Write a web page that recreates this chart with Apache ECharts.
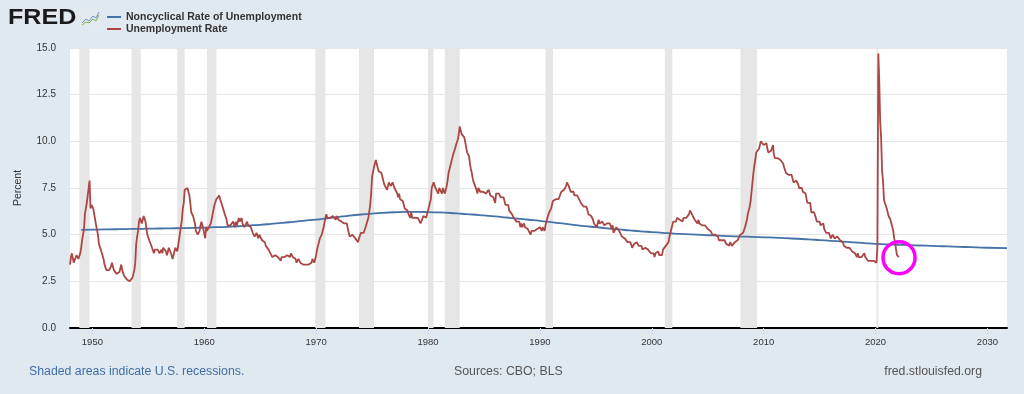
<!DOCTYPE html>
<html>
<head>
<meta charset="utf-8">
<script src="https://cdn.jsdelivr.net/npm/echarts@6/dist/echarts.min.js"></script>
<style>
html,body{margin:0;padding:0;background:#e1e9f0;}
#c{width:1024px;height:394px;}
</style>
</head>
<body>
<div id="c"></div>
<script>
// ---- Data (monthly unemployment rate, %, starting Jan of each block) ----
const unrate1948 = [3.4,3.8,4.0,3.9,3.5,3.6,3.6,3.9,3.8,3.7,3.8,4.0,
  4.3,4.7,5.0,5.3,6.1,6.2,6.7,6.8,6.6,7.9,6.4,6.6];
const unrate1950s = [
  6.5,6.4,6.3,5.8,5.5,5.4,5.0,4.5,4.4,4.2,4.2,4.3,
  3.7,3.4,3.4,3.1,3.0,3.2,3.1,3.1,3.3,3.5,3.5,3.1,
  3.2,3.1,2.9,2.9,3.0,3.0,3.2,3.4,3.1,3.0,2.8,2.7,
  2.9,2.6,2.6,2.7,2.5,2.5,2.6,2.7,2.9,3.1,3.5,4.5,
  4.9,5.2,5.7,5.9,5.9,5.6,5.8,6.0,6.1,5.7,5.3,5.0,
  4.9,4.7,4.6,4.7,4.3,4.2,4.0,4.2,4.1,4.3,4.2,4.2,
  4.0,3.9,4.2,4.0,4.3,4.3,4.4,4.1,3.9,3.9,4.3,4.2,
  4.2,3.9,3.7,3.9,4.1,4.3,4.2,4.1,4.4,4.5,5.1,5.2,
  5.8,6.4,6.7,7.4,7.4,7.3,7.5,7.4,7.1,6.7,6.2,6.2,
  6.0,5.9,5.6,5.2,5.1,5.0,5.1,5.2,5.5,5.7,5.8,5.3];
const unrate1960s = [
  5.2,4.8,5.4,5.2,5.1,5.4,5.5,5.6,5.5,6.1,6.1,6.6,
  6.6,6.9,6.9,7.0,7.1,6.9,7.0,6.6,6.7,6.5,6.1,6.0,
  5.8,5.5,5.6,5.6,5.5,5.5,5.4,5.7,5.6,5.4,5.7,5.5,
  5.7,5.9,5.7,5.7,5.9,5.6,5.6,5.4,5.5,5.5,5.7,5.5,
  5.6,5.4,5.4,5.3,5.1,5.2,4.9,5.0,5.1,5.1,4.8,5.0,
  4.9,5.1,4.7,4.8,4.6,4.6,4.4,4.4,4.3,4.2,4.1,4.0,
  4.0,3.8,3.8,3.8,3.9,3.8,3.8,3.8,3.7,3.7,3.6,3.8,
  3.9,3.8,3.8,3.8,3.8,3.9,3.8,3.8,3.8,4.0,3.9,3.8,
  3.7,3.8,3.7,3.5,3.5,3.7,3.7,3.5,3.4,3.4,3.4,3.4,
  3.4,3.4,3.4,3.4,3.4,3.5,3.5,3.5,3.7,3.7,3.5,3.5];
const unrate1970s = [
  3.9,4.2,4.4,4.6,4.8,4.9,5.0,5.1,5.4,5.5,5.9,6.1,
  5.9,5.9,6.0,5.9,5.9,5.9,6.0,6.1,6.0,5.8,6.0,6.0,
  5.8,5.7,5.8,5.7,5.7,5.7,5.6,5.6,5.5,5.6,5.3,5.2,
  4.9,5.0,4.9,5.0,4.9,4.9,4.8,4.8,4.8,4.6,4.8,4.9,
  5.1,5.2,5.1,5.1,5.1,5.4,5.5,5.5,5.9,6.0,6.6,7.2,
  8.1,8.1,8.6,8.8,9.0,8.8,8.6,8.4,8.4,8.4,8.3,8.2,
  7.9,7.7,7.6,7.7,7.4,7.6,7.8,7.8,7.6,7.7,7.8,7.8,
  7.5,7.6,7.4,7.2,7.0,7.2,6.9,7.0,6.8,6.8,6.8,6.4,
  6.4,6.3,6.3,6.1,6.0,5.9,6.2,5.9,6.0,5.8,5.9,6.0,
  5.9,5.9,5.8,5.8,5.6,5.7,5.7,6.0,5.9,6.0,5.9,6.0];
const unrate1980s = [
  6.3,6.3,6.3,6.9,7.5,7.6,7.8,7.7,7.5,7.5,7.5,7.2,
  7.5,7.4,7.4,7.2,7.5,7.5,7.2,7.4,7.6,7.9,8.3,8.5,
  8.6,8.9,9.0,9.3,9.4,9.6,9.8,9.8,10.1,10.4,10.8,10.8,
  10.4,10.4,10.3,10.2,10.1,10.1,9.4,9.5,9.2,8.8,8.5,8.3,
  8.0,7.8,7.8,7.7,7.4,7.2,7.5,7.5,7.3,7.4,7.2,7.3,
  7.3,7.2,7.2,7.3,7.2,7.4,7.4,7.1,7.1,7.1,7.0,7.0,
  6.7,7.2,7.2,7.1,7.2,7.2,7.0,6.9,7.0,7.0,6.9,6.6,
  6.6,6.6,6.6,6.3,6.3,6.2,6.1,6.0,5.9,6.0,5.8,5.7,
  5.7,5.7,5.7,5.4,5.6,5.4,5.4,5.6,5.4,5.4,5.3,5.3,
  5.4,5.2,5.0,5.2,5.2,5.3,5.2,5.2,5.3,5.3,5.4,5.4];
const unrate1990s = [
  5.4,5.3,5.2,5.4,5.4,5.2,5.5,5.7,5.9,5.9,6.2,6.3,
  6.4,6.6,6.8,6.7,6.9,6.9,6.8,6.9,6.9,7.0,7.0,7.3,
  7.3,7.4,7.4,7.4,7.6,7.8,7.7,7.6,7.6,7.3,7.4,7.4,
  7.3,7.1,7.0,7.1,7.1,7.0,6.9,6.8,6.7,6.8,6.6,6.5,
  6.6,6.6,6.5,6.4,6.1,6.1,6.1,6.0,5.9,5.8,5.6,5.5,
  5.6,5.4,5.4,5.8,5.6,5.6,5.7,5.7,5.6,5.5,5.6,5.6,
  5.6,5.5,5.5,5.6,5.6,5.3,5.5,5.1,5.2,5.2,5.4,5.4,
  5.3,5.2,5.2,5.1,4.9,5.0,4.9,4.8,4.9,4.7,4.6,4.7,
  4.6,4.6,4.7,4.3,4.4,4.5,4.5,4.5,4.6,4.5,4.4,4.4,
  4.3,4.4,4.2,4.3,4.2,4.3,4.3,4.2,4.2,4.1,4.1,4.0];
const unrate2000s = [
  4.0,4.1,4.0,3.8,4.0,4.0,4.0,4.1,3.9,3.9,3.9,3.9,
  4.2,4.2,4.3,4.4,4.3,4.5,4.6,4.9,5.0,5.3,5.5,5.7,
  5.7,5.7,5.7,5.9,5.8,5.8,5.8,5.7,5.7,5.7,5.9,6.0,
  5.8,5.9,5.9,6.0,6.1,6.3,6.2,6.1,6.1,6.0,5.8,5.7,
  5.7,5.6,5.8,5.6,5.6,5.6,5.5,5.4,5.4,5.5,5.4,5.4,
  5.3,5.4,5.2,5.2,5.1,5.0,5.0,4.9,5.0,5.0,5.0,4.9,
  4.7,4.8,4.7,4.7,4.6,4.6,4.7,4.7,4.5,4.4,4.5,4.4,
  4.6,4.5,4.4,4.5,4.4,4.6,4.7,4.6,4.7,4.7,4.7,5.0,
  5.0,4.9,5.1,5.0,5.4,5.6,5.8,6.1,6.1,6.5,6.8,7.3,
  7.8,8.3,8.7,9.0,9.4,9.5,9.5,9.6,9.8,10.0,9.9,9.9];
const unrate2010s = [
  9.8,9.8,9.9,9.9,9.6,9.4,9.4,9.5,9.5,9.4,9.8,9.3,
  9.1,9.0,9.0,9.1,9.0,9.1,9.0,9.0,9.0,8.8,8.6,8.5,
  8.3,8.3,8.2,8.2,8.2,8.2,8.2,8.1,7.8,7.8,7.7,7.9,
  8.0,7.7,7.5,7.6,7.5,7.5,7.3,7.2,7.2,7.2,6.9,6.7,
  6.6,6.7,6.7,6.2,6.3,6.1,6.2,6.1,5.9,5.7,5.8,5.6,
  5.7,5.5,5.4,5.4,5.6,5.3,5.2,5.1,5.0,5.0,5.1,5.0,
  4.8,4.9,5.0,5.1,4.8,4.9,4.8,4.9,5.0,4.9,4.7,4.7,
  4.7,4.6,4.4,4.4,4.4,4.3,4.3,4.4,4.3,4.2,4.2,4.1,
  4.0,4.1,4.0,4.0,3.8,4.0,3.8,3.8,3.7,3.8,3.8,3.9,
  4.0,3.8,3.8,3.7,3.6,3.6,3.7,3.6,3.5,3.6,3.6,3.6];
const unrate2020s = [
  3.5,3.5,4.4,14.7,13.2,11.0,10.2,8.4,7.9,6.9,6.7,6.7,
  6.4,6.2,6.0,6.0,5.8,5.9,5.4,5.2,4.8,4.6,4.2,3.9,
  4.0,3.8];

// Noncyclical rate of unemployment, %, one value per year 1949..2031
const nrouStartYear = 1949;
const nrouAnnual = [5.26,5.27,5.28,5.29,5.30,5.31,5.32,5.33,5.34,5.35,5.36,
  5.38,5.40,5.42,5.45,5.49,5.53,5.58,5.63,5.69,5.75,
  5.81,5.88,5.95,6.02,6.08,6.13,6.17,6.20,6.22,6.22,
  6.21,6.19,6.16,6.12,6.08,6.03,5.98,5.92,5.86,5.80,
  5.74,5.67,5.60,5.53,5.46,5.40,5.34,5.28,5.23,5.18,
  5.14,5.10,5.06,5.03,5.00,4.97,4.95,4.92,4.90,4.88,
  4.86,4.84,4.81,4.78,4.75,4.71,4.67,4.63,4.59,4.55,
  4.51,4.48,4.46,4.44,4.42,4.40,4.38,4.36,4.34,4.32,
  4.30,4.28];
const nrouLastX = 2031.75;

// NBER recessions [start, end] in decimal years (peak month to trough month)
const recessions = [
  [1948 + 10/12, 1949 + 9/12], [1953 + 6/12, 1954 + 4/12], [1957 + 7/12, 1958 + 3/12],
  [1960 + 3/12, 1961 + 1/12], [1969 + 11/12, 1970 + 10/12], [1973 + 10/12, 1975 + 2/12],
  [1980 + 0/12, 1980 + 6/12], [1981 + 6/12, 1982 + 10/12], [1990 + 6/12, 1991 + 2/12],
  [2001 + 2/12, 2001 + 10/12], [2007 + 11/12, 2009 + 5/12], [2020 + 1/12, 2020 + 3/12]
];

const xTicks = [1950,1960,1970,1980,1990,2000,2010,2020,2030];
const highlight = [2022.1, 3.77];

// ---- Build series data ----
const unrateAll = [].concat(unrate1948, unrate1950s, unrate1960s, unrate1970s,
  unrate1980s, unrate1990s, unrate2000s, unrate2010s, unrate2020s);
const unrateData = unrateAll.map((v, i) => [1948 + i / 12, v]);
const nrouData = nrouAnnual.map((v, i) => [nrouStartYear + i, v]);
nrouData[nrouData.length - 1][0] = nrouLastX;

const chart = echarts.init(document.getElementById('c'), null, {renderer: 'canvas'});
const FONT = '"Liberation Sans", Arial, sans-serif';
chart.setOption({
  backgroundColor: '#e1e9f0',
  animation: false,
  textStyle: {fontFamily: FONT},
  grid: {left: 70, right: 17, top: 48, bottom: 66, show: true, backgroundColor: '#ffffff', borderWidth: 0},
  legend: {
    orient: 'vertical', left: 107, top: 11, itemGap: 0, padding: 0,
    icon: 'rect', itemWidth: 14, itemHeight: 2,
    data: ['Noncyclical Rate of Unemployment', 'Unemployment Rate'],
    textStyle: {fontSize: 10.5, fontWeight: 'bold', color: '#333333', lineHeight: 12, fontFamily: FONT},
    selectedMode: false
  },
  xAxis: {
    type: 'value', min: 1948, max: nrouLastX,
    splitLine: {show: false},
    axisLine: {show: true, lineStyle: {color: '#000000', width: 2}},
    axisTick: {show: true, customValues: xTicks, length: 6, lineStyle: {color: '#ccd6eb', width: 1}},
    axisLabel: {customValues: xTicks, color: '#333333', fontSize: 9.5, margin: 9, fontFamily: FONT,
      formatter: v => String(Math.round(v))}
  },
  yAxis: {
    type: 'value', min: 0, max: 15, interval: 2.5,
    name: 'Percent', nameLocation: 'middle', nameGap: 46, nameRotate: 90,
    nameTextStyle: {color: '#333333', fontSize: 10.5, fontFamily: FONT},
    axisLine: {show: false}, axisTick: {show: false},
    axisLabel: {color: '#333333', fontSize: 10, margin: 14, fontFamily: FONT, formatter: v => v.toFixed(1)},
    splitLine: {lineStyle: {color: '#e6e6e6', width: 1}}
  },
  series: [
    {
      name: 'recessions', type: 'line', data: [], z: 1, silent: true,
      markArea: {silent: true, itemStyle: {color: '#e6e6e6'},
        data: recessions.map(r => [{xAxis: r[0]}, {xAxis: r[1]}])}
    },
    {
      name: 'Noncyclical Rate of Unemployment', type: 'line', data: nrouData, z: 3,
      showSymbol: false, symbol: 'none', smooth: true,
      lineStyle: {color: '#4572A7', width: 1.8}, itemStyle: {color: '#4572A7'}
    },
    {
      name: 'Unemployment Rate', type: 'line', data: unrateData, z: 4,
      showSymbol: false, symbol: 'none',
      lineStyle: {color: '#AA4643', width: 1.8}, itemStyle: {color: '#AA4643'},
      markPoint: {
        silent: true, symbol: 'circle', symbolSize: 32,
        itemStyle: {color: 'rgba(0,0,0,0)', borderColor: '#ff00ff', borderWidth: 3.5},
        label: {show: false},
        data: [{coord: highlight}]
      }
    }
  ],
  graphic: [
    {type: 'text', x: 8, y: 7, scaleX: 1.14, style: {text: 'FRED', font: 'bold 22px ' + FONT, fill: '#1a1a1a'}},
    {type: 'rect', shape: {x: 81, y: 9, width: 19, height: 18, r: 2}, style: {fill: '#e4e9ee'}},
    {type: 'polyline', shape: {points: [[82,23],[86,19],[89,21],[93,16],[96,18],[99,12]]},
      style: {stroke: '#6b93c4', lineWidth: 1, fill: null}},
    {type: 'polyline', shape: {points: [[82,25],[86,22],[89,23],[93,19],[96,21],[99,15]]},
      style: {stroke: '#7fb347', lineWidth: 1, fill: null}},
    {type: 'text', left: 29, top: 366, style: {text: 'Shaded areas indicate U.S. recessions.', font: '12.3px ' + FONT, fill: '#3f6ea8'}},
    {type: 'text', left: 454, top: 366, style: {text: 'Sources: CBO; BLS', font: '12.3px ' + FONT, fill: '#555555'}},
    {type: 'text', right: 42, top: 366, style: {text: 'fred.stlouisfed.org', font: '12.3px ' + FONT, fill: '#555555'}}
  ]
});
</script>
</body>
</html>
